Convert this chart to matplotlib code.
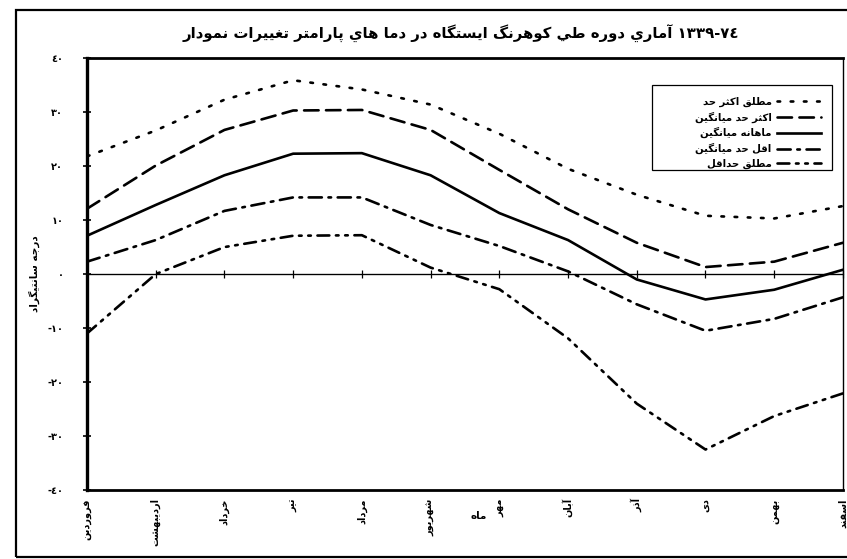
import matplotlib
matplotlib.use('Agg')
import matplotlib.pyplot as plt
from matplotlib.patches import Rectangle

# Data
months = ['فروردین', 'اردیبهشت', 'خرداد', 'تیر', 'مرداد', 'شهریور',
          'مهر', 'آبان', 'آذر', 'دی', 'بهمن', 'اسفند']
abs_max = [21.8, 26.6, 32.3, 35.9, 34.2, 31.4, 26.0, 19.5, 14.7, 10.8, 10.3, 12.6]
mean_max = [12.1, 20.1, 26.7, 30.3, 30.4, 26.7, 19.3, 12.0, 5.8, 1.3, 2.3, 5.8]
mean_monthly = [7.1, 12.8, 18.3, 22.3, 22.4, 18.3, 11.3, 6.3, -1.0, -4.7, -2.9, 0.8]
mean_min = [2.3, 6.3, 11.7, 14.2, 14.2, 9.1, 5.2, 0.5, -5.6, -10.5, -8.3, -4.3]
abs_min = [-11.0, 0.0, 5.0, 7.1, 7.2, 1.2, -2.8, -11.9, -24.0, -32.5, -26.3, -22.1]
series_names = ['حد اکثر مطلق', 'میانگین حد اکثر', 'میانگین ماهانه',
                'میانگین حد اقل', 'حداقل مطلق']
yticks = [-40, -30, -20, -10, 0, 10, 20, 30, 40]
ytick_labels = ['-٤٠', '-٣٠', '-٢٠', '-١٠', '٠', '١٠', '٢٠', '٣٠', '٤٠']
title = 'نمودار تغییرات پارامتر هاي دما در ایستگاه کوهرنگ طي دوره آماري ١٣٣٩-٧٤'
ylabel = 'درجه سانتیگراد'
xlabel = 'ماه'

# matplotlib does no Arabic shaping, so pick the joined glyph forms by hand
# (isolated, final, initial, medial)
FORMS = {
    'ا': ('\uFE8D', '\uFE8E', None, None),
    'آ': ('\uFE81', '\uFE82', None, None),
    'ب': ('\uFE8F', '\uFE90', '\uFE91', '\uFE92'),
    'پ': ('\uFB56', '\uFB57', '\uFB58', '\uFB59'),
    'ت': ('\uFE95', '\uFE96', '\uFE97', '\uFE98'),
    'ث': ('\uFE99', '\uFE9A', '\uFE9B', '\uFE9C'),
    'ج': ('\uFE9D', '\uFE9E', '\uFE9F', '\uFEA0'),
    'ح': ('\uFEA1', '\uFEA2', '\uFEA3', '\uFEA4'),
    'خ': ('\uFEA5', '\uFEA6', '\uFEA7', '\uFEA8'),
    'د': ('\uFEA9', '\uFEAA', None, None),
    'ذ': ('\uFEAB', '\uFEAC', None, None),
    'ر': ('\uFEAD', '\uFEAE', None, None),
    'ز': ('\uFEAF', '\uFEB0', None, None),
    'س': ('\uFEB1', '\uFEB2', '\uFEB3', '\uFEB4'),
    'ش': ('\uFEB5', '\uFEB6', '\uFEB7', '\uFEB8'),
    'ط': ('\uFEC1', '\uFEC2', '\uFEC3', '\uFEC4'),
    'غ': ('\uFECD', '\uFECE', '\uFECF', '\uFED0'),
    'ف': ('\uFED1', '\uFED2', '\uFED3', '\uFED4'),
    'ق': ('\uFED5', '\uFED6', '\uFED7', '\uFED8'),
    'ک': ('\uFB8E', '\uFB8F', '\uFB90', '\uFB91'),
    'گ': ('\uFB92', '\uFB93', '\uFB94', '\uFB95'),
    'ل': ('\uFEDD', '\uFEDE', '\uFEDF', '\uFEE0'),
    'م': ('\uFEE1', '\uFEE2', '\uFEE3', '\uFEE4'),
    'ن': ('\uFEE5', '\uFEE6', '\uFEE7', '\uFEE8'),
    'و': ('\uFEED', '\uFEEE', None, None),
    'ه': ('\uFEE9', '\uFEEA', '\uFEEB', '\uFEEC'),
    'ی': ('\uFBFC', '\uFBFD', '\uFBFE', '\uFBFF'),
    'ي': ('\uFEF1', '\uFEF2', '\uFEF3', '\uFEF4'),
}


def shape_word(w):
    out = []
    for i, c in enumerate(w):
        if c not in FORMS:
            out.append(c)
            continue
        prev = w[i - 1] if i > 0 else None
        nxt = w[i + 1] if i + 1 < len(w) else None
        jp = prev in FORMS and FORMS[prev][2] is not None
        jn = FORMS[c][2] is not None and nxt in FORMS
        iso, fin, ini, med = FORMS[c]
        if jp and jn:
            out.append(med)
        elif jp:
            out.append(fin)
        elif jn:
            out.append(ini)
        else:
            out.append(iso)
    if any(c in FORMS for c in w):
        out = out[::-1]
    return ''.join(out)


def fa(s, rtl=False):
    # the scanned chart keeps words in left-to-right order
    words = [shape_word(w) for w in s.split(' ')]
    if rtl:
        words = words[::-1]
    return ' '.join(words)


plt.rcParams['font.family'] = ['DejaVu Sans']

fig = plt.figure(figsize=(8.47, 5.59), dpi=100)
ax = fig.add_axes([0.1027, 0.1234, 0.8925, 0.7726])

x = list(range(len(months)))
styles = [(0, (1, 4)), (0, (5.5, 2.8)), '-', (0, (5, 2.5, 1, 2.5)),
          (0, (4.5, 2.5, 1, 2.5, 1, 2.5))]
all_series = [abs_max, mean_max, mean_monthly, mean_min, abs_min]
for vals, ls, name in zip(all_series, styles, series_names):
    ax.plot(x, vals, color='black', linestyle=ls, linewidth=1.9,
            dash_capstyle='round', label=fa(name))

ax.set_xlim(0, len(months) - 1)
ax.set_ylim(-40, 40)
ax.set_yticks(yticks)
ax.set_yticklabels(ytick_labels, fontsize=7, fontweight='bold')
ax.tick_params(axis='y', direction='inout', length=6, width=1.2, pad=14)
ax.set_xticks(x)
ax.set_xticklabels([fa(m) for m in months], rotation=90, fontsize=7,
                   fontweight='bold', va='top')
ax.tick_params(axis='x', length=0, pad=6)

# zero line with category tick marks
ax.axhline(0, color='black', linewidth=0.9)
zero_axis = ax.secondary_xaxis(0.5)
zero_axis.set_xticks(x)
zero_axis.set_xticklabels([])
zero_axis.tick_params(direction='inout', length=6, width=0.9)
zero_axis.spines['bottom'].set_visible(False)

ax.spines['left'].set_linewidth(2.4)
ax.spines['top'].set_linewidth(2.0)
ax.spines['bottom'].set_linewidth(2.0)
ax.spines['right'].set_linewidth(1.0)

ax.set_ylabel(fa(ylabel, rtl=True), fontsize=7.5, fontweight='bold')
ax.yaxis.set_label_coords(-0.062, 0.5)
fig.text(0.565, 0.077, fa(xlabel), fontsize=7.5, fontweight='bold',
         ha='center', va='center')

fig.text(0.544, 0.94, fa(title), fontsize=10.7, fontweight='bold',
         ha='center', va='center')

# legend: key on the right, box drawn separately (wider than its content)
leg = ax.legend(loc='upper right', bbox_to_anchor=(0.982, 0.93),
                markerfirst=False, frameon=False, handlelength=4.4,
                labelspacing=0.45, handletextpad=0.5, borderpad=0.3,
                prop={'size': 7.3, 'weight': 'bold'})
for t in leg.get_texts():
    t.set_ha('right')
ax.add_patch(Rectangle((0.747, 0.741), 0.238, 0.196, transform=ax.transAxes,
                       fill=False, edgecolor='black', linewidth=0.9, zorder=5))

# outer chart frame
fig.patches.append(Rectangle((16 / 847, 2 / 559), 840 / 847, 547 / 559,
                             transform=fig.transFigure, fill=False,
                             edgecolor='black', linewidth=1.6))

fig.savefig('out.png', dpi=100)
